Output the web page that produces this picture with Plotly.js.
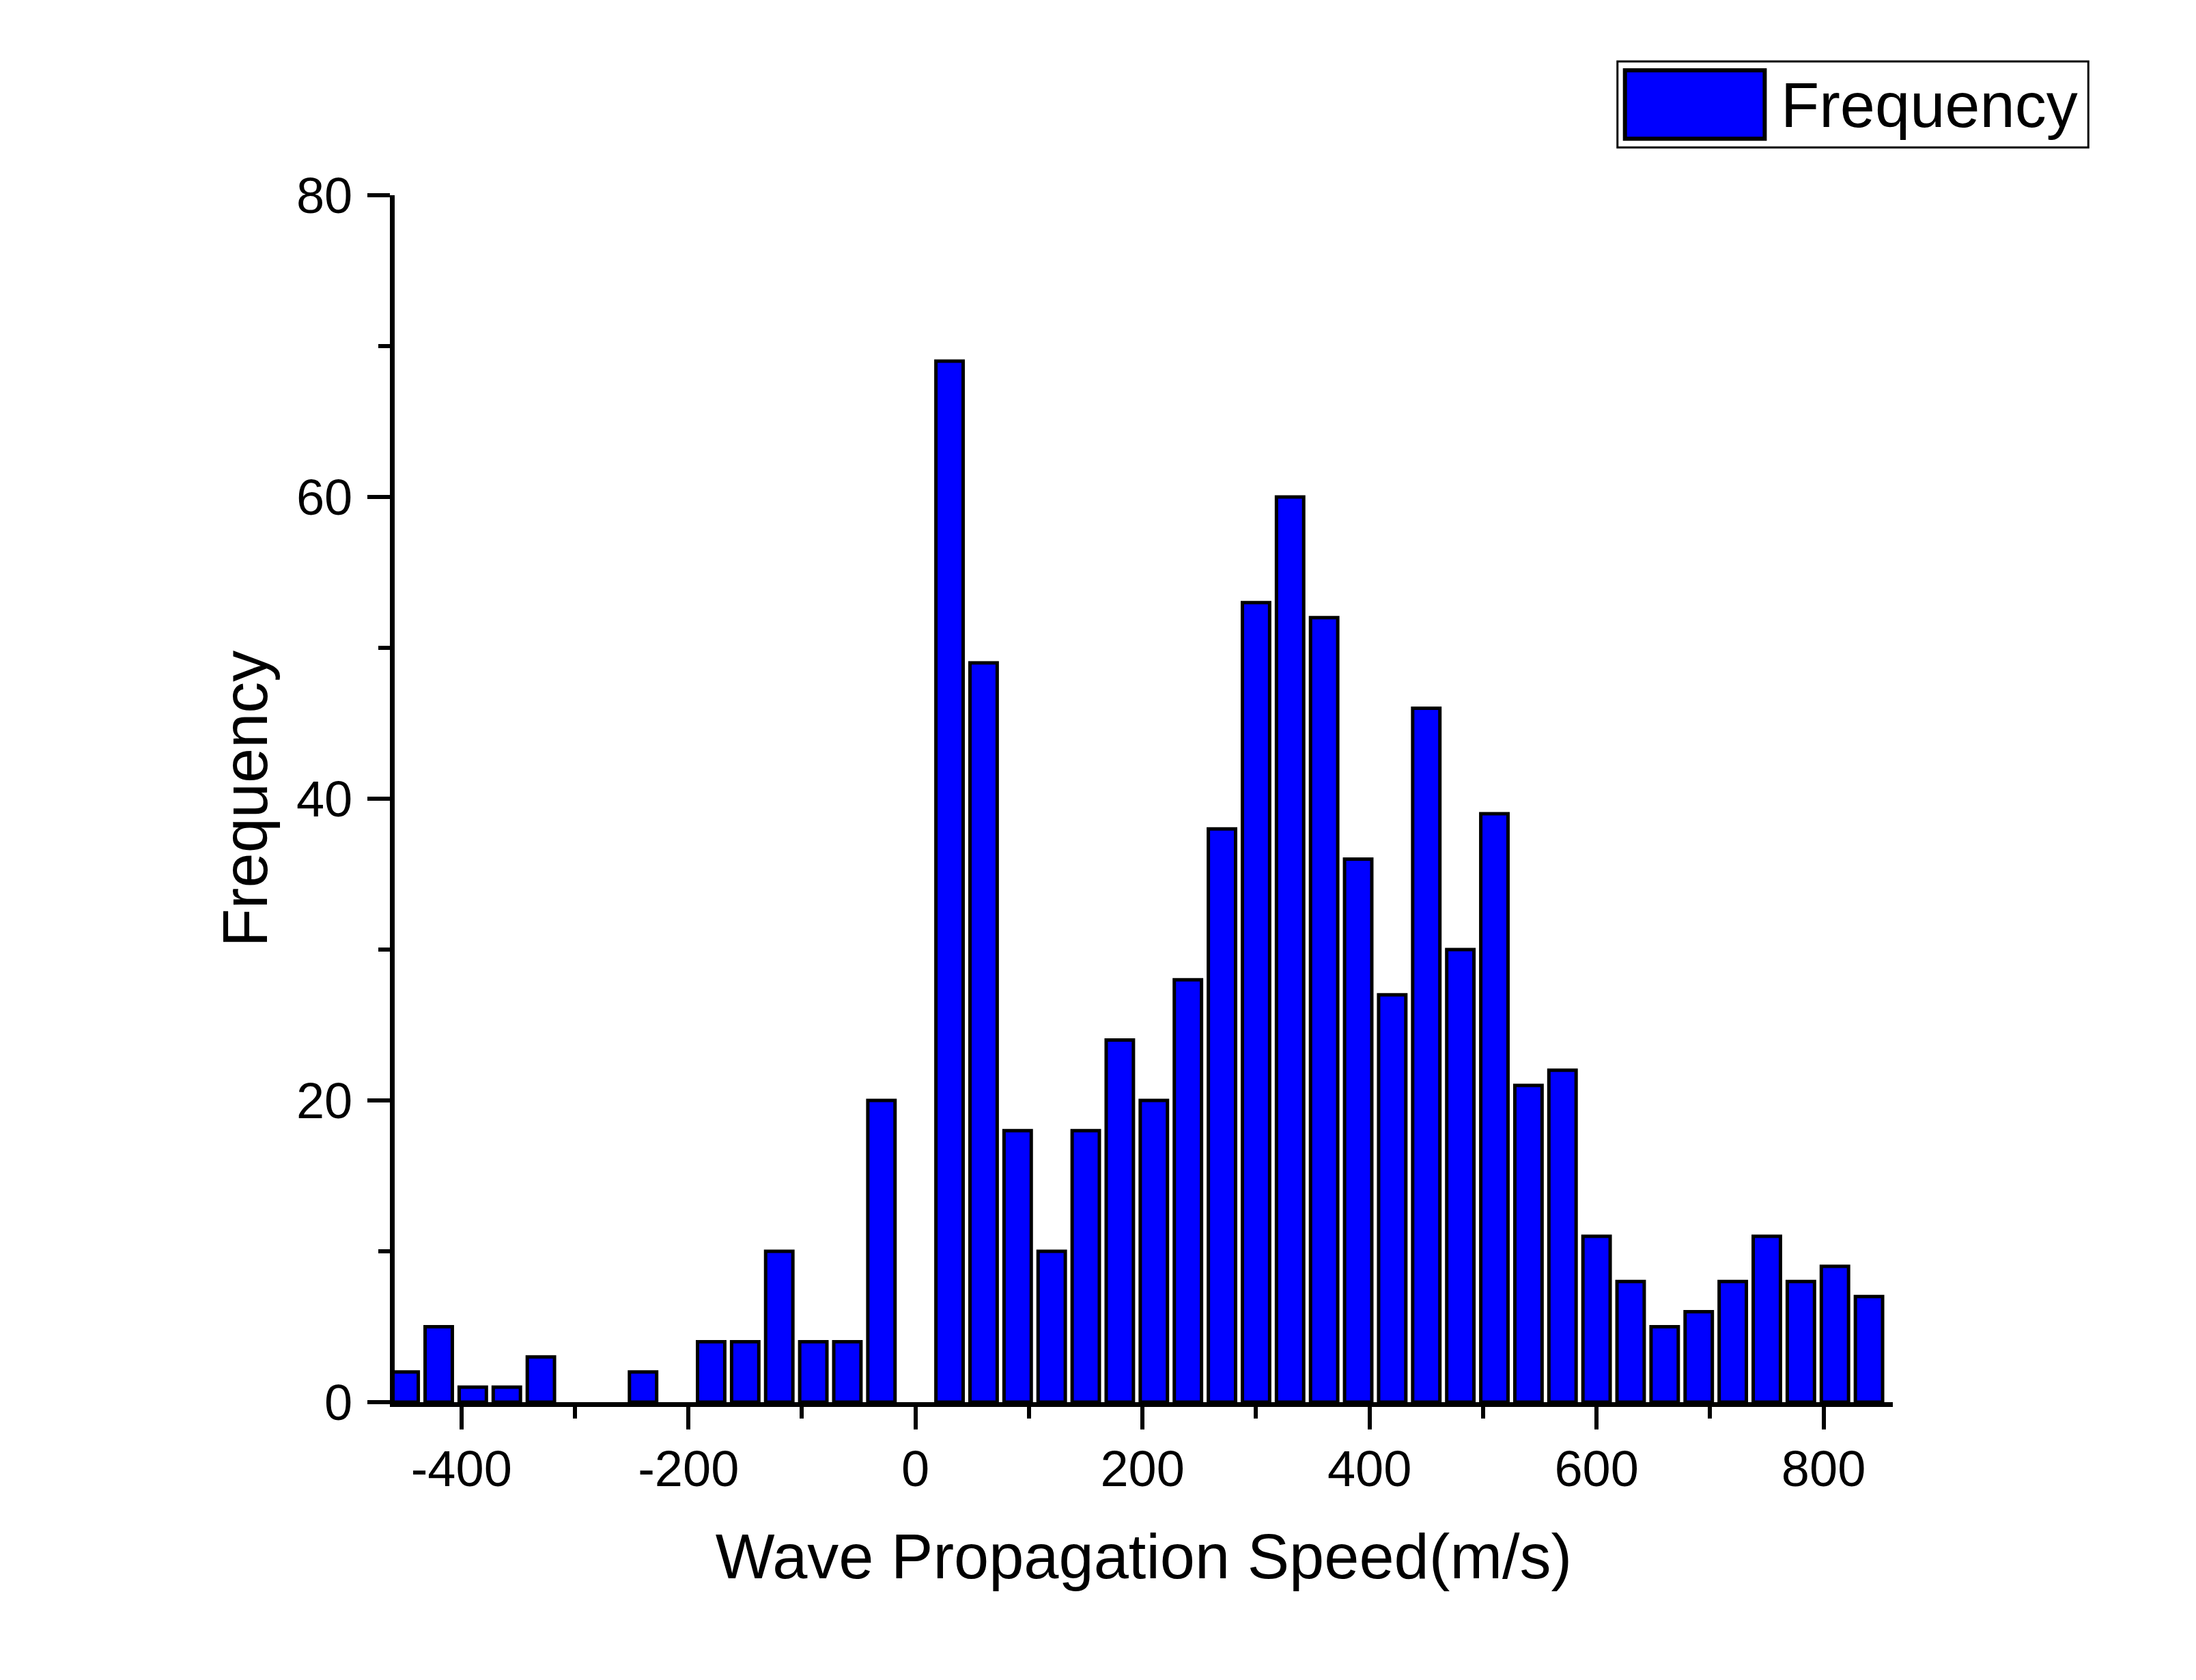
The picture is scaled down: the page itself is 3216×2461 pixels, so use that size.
<!DOCTYPE html>
<html>
<head>
<meta charset="utf-8">
<script src="https://cdn.plot.ly/plotly-3.0.1.min.js"></script>
<style>html,body{margin:0;padding:0;background:#fff;}#chart{width:3216px;height:2461px;}</style>
</head>
<body>
<div id="chart"></div>
<script>
const binCenters = [-450,-420,-390,-360,-330,-300,-270,-240,-210,-180,-150,-120,-90,-60,-30,0,30,60,90,120,150,180,210,240,270,300,330,360,390,420,450,480,510,540,570,600,630,660,690,720,750,780,810,840];
const frequency = [2,5,1,1,3,0,0,2,0,4,4,10,4,4,20,0,69,49,18,10,18,24,20,28,38,53,60,52,36,27,46,30,39,21,22,11,8,5,6,8,11,8,9,7];
const xTickVals = [-400,-200,0,200,400,600,800];
const xTickText = ['-400','-200','0','200','400','600','800'];
const yTickVals = [0,20,40,60,80];
const yTickText = ['0','20','40','60','80'];
const seriesName = 'Frequency';
const xTitle = 'Wave Propagation Speed(m/s)';
const yTitle = 'Frequency';

const FONT = 'Liberation Sans, Arial, sans-serif';

const trace = {
  type: 'bar',
  x: binCenters,
  y: frequency,
  name: seriesName,
  marker: {color: '#0000ff', line: {color: '#000000', width: frequency.map(v => v === 0 ? 0 : 5)}},
  showlegend: false
};

const minorStyle = {ticks: 'outside', ticklen: 17, tickwidth: 6, tickcolor: '#000'};

const layout = {
  width: 3216, height: 2461,
  paper_bgcolor: '#ffffff', plot_bgcolor: '#ffffff',
  margin: {l: 578, r: 444, t: 286, b: 407},
  bargap: 0.2,
  font: {family: FONT, color: '#000'},
  xaxis: {
    range: [-458.8, 861],
    tickmode: 'array', tickvals: xTickVals, ticktext: xTickText,
    ticks: 'outside', ticklen: 33, tickwidth: 6, tickcolor: '#000',
    minor: Object.assign({dtick: 100, tick0: 0}, minorStyle),
    showline: true, linewidth: 7, linecolor: '#000',
    showgrid: false, zeroline: false,
    tickfont: {family: FONT, size: 74, color: '#000'},
    ticklabelstandoff: -6,
    title: {text: xTitle, font: {family: FONT, size: 92, color: '#000'}, standoff: 58},
    automargin: false
  },
  yaxis: {
    range: [0, 80],
    tickmode: 'array', tickvals: yTickVals, ticktext: yTickText,
    ticks: 'outside', ticklen: 33, tickwidth: 6, tickcolor: '#000',
    minor: Object.assign({dtick: 10, tick0: 0}, minorStyle),
    showline: true, linewidth: 7, linecolor: '#000',
    showgrid: false, zeroline: false,
    tickfont: {family: FONT, size: 74, color: '#000'},
    ticklabelstandoff: 7,
    title: {text: yTitle, font: {family: FONT, size: 92, color: '#000'}, standoff: 14},
    automargin: false
  },
  shapes: [
    {type: 'rect', xref: 'paper', yref: 'paper', x0: 0.8162, x1: 1.1305, y0: 1.0396, y1: 1.1109,
     line: {color: '#000', width: 3}, fillcolor: 'rgba(0,0,0,0)'},
    {type: 'rect', xref: 'paper', yref: 'paper', x0: 0.8212, x1: 0.9145, y0: 1.0468, y1: 1.1035,
     line: {color: '#000', width: 6}, fillcolor: '#0000ff'}
  ],
  annotations: [
    {xref: 'paper', yref: 'paper', x: 0.9245, y: 1.0747, xanchor: 'left', yanchor: 'middle',
     text: seriesName, showarrow: false, font: {family: FONT, size: 92, color: '#000'}}
  ]
};

Plotly.newPlot('chart', [trace], layout, {displayModeBar: false, staticPlot: true});
</script>
</body>
</html>
